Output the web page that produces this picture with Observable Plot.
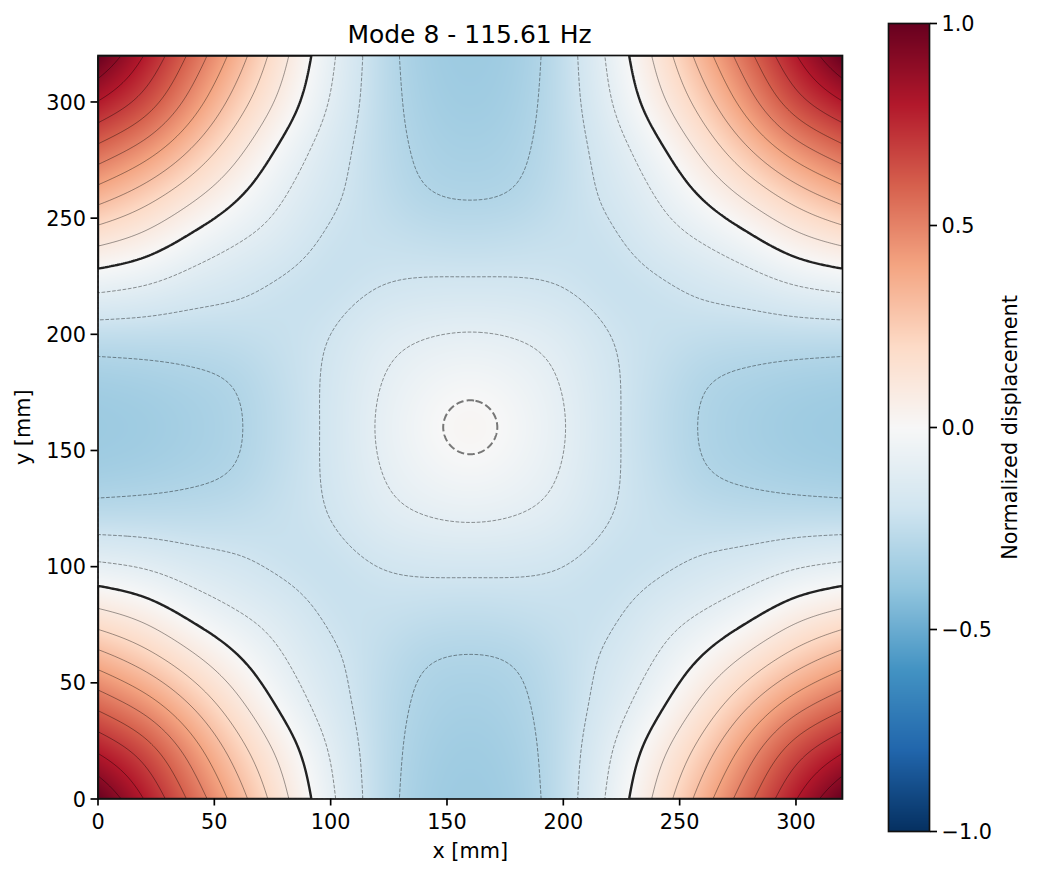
<!DOCTYPE html>
<html><head><meta charset="utf-8">
<script src="https://cdn.jsdelivr.net/npm/d3@7"></script>
<script src="https://cdn.jsdelivr.net/npm/@observablehq/plot@0.6"></script>
<style>
html,body{margin:0;background:#fff}
#fig{position:relative;width:1037px;height:877px;overflow:hidden;font-family:"DejaVu Sans",sans-serif;color:#000}
#fig>svg,#fig>div{position:absolute}
#title{left:97px;width:745px;top:20px;text-align:center;font-size:25px;line-height:30px}
</style></head><body>
<div id="fig"><div id="title">Mode 8 - 115.61 Hz</div></div>
<script>
const plateSize = 320;
const gridPositions = [0,20,40,60,80,100,120,140,160];
// one quadrant of the (symmetric) normalized displacement
const row0 = [1,.796,.578,.35,.122,-.08,-.245,-.34,-.365];
const row1 = [.796,.657,.46,.25,.06,-.108,-.247,-.33,-.355];
const row2 = [.578,.46,.3,.13,-.025,-.15,-.25,-.315,-.335];
const row3 = [.35,.25,.13,.012,-.095,-.182,-.245,-.292,-.305];
const row4 = [.122,.06,-.025,-.095,-.155,-.213,-.23,-.243,-.25];
const row5 = [-.08,-.108,-.15,-.182,-.213,-.224,-.2,-.185,-.182];
const row6 = [-.245,-.247,-.25,-.245,-.23,-.2,-.143,-.108,-.096];
const row7 = [-.34,-.33,-.315,-.292,-.243,-.185,-.108,-.051,-.025];
const row8 = [-.365,-.355,-.335,-.305,-.25,-.182,-.096,-.025,.017];
const quadrant = [row0,row1,row2,row3,row4,row5,row6,row7,row8];

const colorDomain = [-1,-.8,-.6,-.4,-.2,0,.2,.4,.6,.8,1];
const colorRange = ["#053061","#2166ac","#4393c3","#92c5de","#d1e5f0","#f7f7f7","#fddbc7","#f4a582","#d6604d","#b2182b","#67001f"];
const positiveLevels = [.1,.2,.3,.4,.5,.6,.7,.8,.9];
const negativeLevels = [-.3,-.2,-.1];
const xyTicks = [0,50,100,150,200,250,300];
const colorbarTicks = [-1,-.5,0,.5,1];

// smooth cubic-spline surface through the grid values above
const step = gridPositions[1];
const N = 2*(gridPositions.length-1);
const pad = 6;
const mirror = k => k>N/2 ? N-k : k;
function node(a,b){
  if(a<0) return 2*node(0,b)-node(-a,b);
  if(a>N) return 2*node(N,b)-node(2*N-a,b);
  if(b<0) return 2*node(a,0)-node(a,-b);
  if(b>N) return 2*node(a,N)-node(a,2*N-b);
  return quadrant[mirror(a)][mirror(b)];
}
function prefilter(f){
  const n=f.length, c=new Array(n), d=new Array(n);
  c[0]=0; d[0]=f[0];
  for(let i=1;i<n-1;i++){
    const m=4-c[i-1];
    c[i]=1/m; d[i]=(6*f[i]-d[i-1])/m;
  }
  const out=new Array(n);
  out[n-1]=f[n-1];
  for(let i=n-2;i>=0;i--) out[i]=i===0?f[0]:d[i]-c[i]*out[i+1];
  return out;
}
const size=N+1+2*pad;
let coef=d3.range(size).map(i=>prefilter(d3.range(size).map(j=>node(i-pad,j-pad))));
coef=d3.transpose(coef).map(prefilter);
coef=d3.transpose(coef);
const bw=t=>{const s=1-t;return [s*s*s/6,(3*t*t*t-6*t*t+4)/6,(-3*t*t*t+3*t*t+3*t+1)/6,t*t*t/6];};
function displacement(x,y){
  const u=Math.min(319.999,Math.max(0,x))/step, v=Math.min(319.999,Math.max(0,y))/step;
  const i=Math.floor(u), j=Math.floor(v), a=bw(u-i), b=bw(v-j);
  let sum=0;
  for(let p=0;p<4;p++){const row=coef[i+pad+p-1];for(let q=0;q<4;q++) sum+=a[p]*b[q]*row[j+pad+q-1];}
  return sum;
}
const nearCentre=(x,y)=>Math.hypot(x-160,y-160)<40;
const centreField=(x,y)=>nearCentre(x,y)?displacement(x,y):-1;
const cornerField=(x,y)=>nearCentre(x,y)?-1:displacement(x,y);
const bounds={x1:0,y1:0,x2:plateSize,y2:plateSize};
const fs="20.8px";
const colorOpts={type:"linear",domain:colorDomain,range:colorRange,interpolate:"rgb",clamp:true};

const main=Plot.plot({
  width:880,height:877,marginLeft:97.5,marginRight:38,marginTop:55,marginBottom:78.5,
  style:{fontFamily:"DejaVu Sans",background:"transparent",overflow:"visible"},
  x:{domain:[0,plateSize]},y:{domain:[0,plateSize]},color:colorOpts,
  marks:[
    Plot.raster({...bounds,fill:(x,y)=>displacement(x,y),pixelSize:1}),
    Plot.contour({...bounds,value:(x,y)=>displacement(x,y),thresholds:positiveLevels,stroke:"#000",strokeOpacity:.38,strokeWidth:1,pixelSize:2,clip:true}),
    Plot.contour({...bounds,value:(x,y)=>displacement(x,y),thresholds:negativeLevels,stroke:"#000",strokeOpacity:.42,strokeWidth:1,strokeDasharray:"3.7,1.6",pixelSize:2,clip:true}),
    Plot.contour({...bounds,value:cornerField,thresholds:[0],stroke:"#222",strokeWidth:2.4,pixelSize:2,clip:true}),
    Plot.contour({...bounds,value:centreField,thresholds:[0],stroke:"#777",strokeWidth:2,strokeDasharray:"7.5,3.2",pixelSize:1,clip:true}),
    Plot.frame({stroke:"#111",strokeWidth:1.67}),
    Plot.axisX(xyTicks,{anchor:"bottom",tickSize:7,strokeWidth:1.67,tickPadding:8,fontSize:fs,label:"x [mm]",labelAnchor:"center",labelArrow:"none",labelOffset:59,tickFormat:d=>d}),
    Plot.axisY(xyTicks,{anchor:"left",tickSize:7,strokeWidth:1.67,fill:"none",label:null}),
    Plot.axisY(xyTicks,{anchor:"left",tickSize:0,tickPadding:12,dy:1,fontSize:fs,tickFormat:d=>d,label:"y [mm]",labelAnchor:"center",labelArrow:"none",labelOffset:83})
  ]
});
main.style.left="0";main.style.top="0";
document.getElementById("fig").appendChild(main);

const bar=Plot.plot({
  width:149,height:877,marginLeft:0,marginRight:108,marginTop:23,marginBottom:46,
  style:{fontFamily:"DejaVu Sans",background:"transparent",overflow:"visible"},
  x:{domain:[0,1],axis:null},y:{domain:[-1,1]},color:colorOpts,
  marks:[
    Plot.raster({x1:0,x2:1,y1:-1,y2:1,fill:(x,y)=>y,pixelSize:1}),
    Plot.frame({stroke:"#111",strokeWidth:1.67}),
    Plot.axisY(colorbarTicks,{anchor:"right",tickSize:7,strokeWidth:1.67,fill:"none",label:null}),
    Plot.axisY(colorbarTicks,{anchor:"right",tickSize:0,tickPadding:12,dy:1,fontSize:fs,tickFormat:d3.format(".1f"),label:"Normalized displacement",labelAnchor:"center",labelArrow:"none",labelOffset:87})
  ]
});
bar.style.left="888px";bar.style.top="0";
document.getElementById("fig").appendChild(bar);
</script></body></html>
